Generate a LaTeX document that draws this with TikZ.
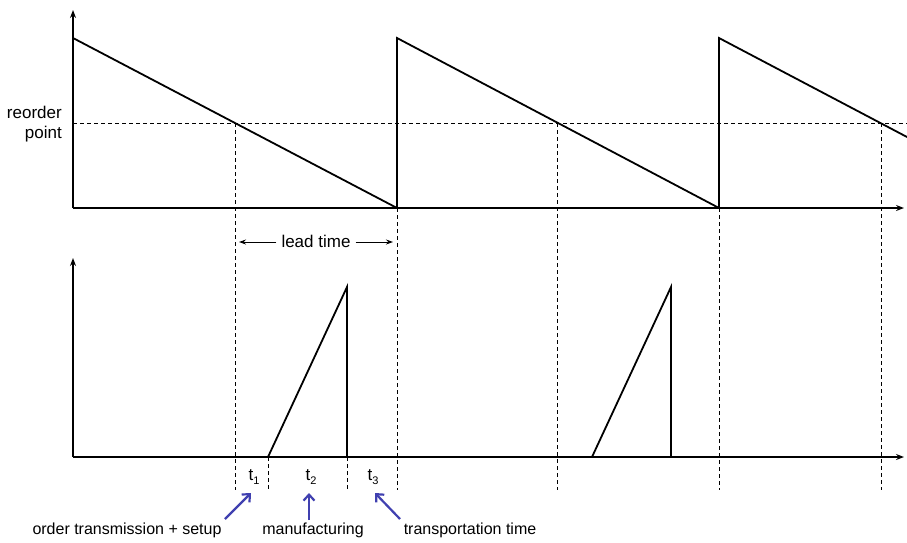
\documentclass[tikz,border=0pt]{standalone}
\usepackage{fontspec}
\setmainfont{Liberation Sans}
\usetikzlibrary{arrows.meta}
\definecolor{arrblue}{RGB}{64,64,176}
\newcommand{\tsub}[1]{t\raisebox{-0.4ex}{\fontsize{11}{12}\selectfont #1}}
\begin{document}
\begin{tikzpicture}[x=1pt,y=-1pt,
  axis/.style={line width=1.8pt,-{Stealth[length=8pt,width=6pt]}},
  curve/.style={line width=1.8pt,line join=miter},
  guide/.style={line width=0.8pt,dash pattern=on 4pt off 3pt},
  lbl/.style={font=\fontsize{16}{19}\selectfont,inner sep=0pt},
  blarrow/.style={line width=2.2pt,arrblue,-{Straight Barb[length=6pt,width=11pt]}},
  ltarrow/.style={line width=1pt,-{Stealth[length=7pt,width=5pt]}}]
\useasboundingbox (0,0) rectangle (907,542);
% coordinates top
\coordinate (o1) at (73,208);
\coordinate (y1) at (73,10);
\coordinate (x1) at (904,208);
\coordinate (p0) at (73,38);
\coordinate (b1) at (397,208);
\coordinate (p1) at (397,38);
\coordinate (b2) at (719,208);
\coordinate (p2) at (719,38);
\coordinate (pe) at (907,137);
\coordinate (rl) at (73,123);
\coordinate (rr) at (907,123);
% bottom
\coordinate (o2) at (73,457);
\coordinate (y2) at (73,258);
\coordinate (x2) at (904,457);
\coordinate (s1) at (268,457);
\coordinate (h1) at (347,287);
\coordinate (e1) at (347,457);
\coordinate (s2) at (592,457);
\coordinate (h2) at (671,287);
\coordinate (e2) at (671,457);
% dashed verticals
\draw[guide] (235,123) -- (235,490);
\draw[guide] (397,208) -- (397,490);
\draw[guide] (557,123) -- (557,490);
\draw[guide] (719,208) -- (719,490);
\draw[guide] (881,123) -- (881,490);
\draw[guide] (268,457) -- (268,490);
\draw[guide] (347,457) -- (347,490);
\draw[guide] (rl) -- (rr);
% axes
\draw[axis] (o1) -- (y1);
\draw[axis] (o1) -- (x1);
\draw[axis] (o2) -- (y2);
\draw[axis] (o2) -- (x2);
% sawtooth
\draw[curve] (p0) -- (b1) -- (p1) -- (b2) -- (p2) -- (pe);
% triangles
\draw[curve] (s1) -- (h1) -- (e1);
\draw[curve] (s2) -- (h2) -- (e2);
% reorder point
\node[lbl,align=right,anchor=east,font=\fontsize{17}{20}\selectfont] (rp) at (62,124) {reorder\\point};
% lead time
\node[lbl,font=\fontsize{17}{20}\selectfont] (lt) at (316,241) {lead time};
\coordinate (ltl) at (239,242);
\coordinate (ltr) at (393,242);
\draw[ltarrow] (lt.west) ++(-5,1) -- (ltl);
\draw[ltarrow] (lt.east) ++(5,1) -- (ltr);
% t labels
\node[lbl,font=\fontsize{17}{20}\selectfont] (t1) at (254,477) {\tsub{1}};
\node[lbl,font=\fontsize{17}{20}\selectfont] (t2) at (311,477) {\tsub{2}};
\node[lbl,font=\fontsize{17}{20}\selectfont] (t3) at (373,477) {\tsub{3}};
% bottom labels
\node[lbl] (l1) at (127,530) {order transmission + setup};
\node[lbl] (l2) at (313,530) {manufacturing};
\node[lbl] (l3) at (470,530) {transportation time};
\coordinate (a1s) at (225,519);
\coordinate (a2s) at (309,520);
\coordinate (a3s) at (400,519);
\draw[blarrow] (a1s) -- (251,493);
\draw[blarrow] (a2s) -- (309,493);
\draw[blarrow] (a3s) -- (375,493);
\end{tikzpicture}
\end{document}
